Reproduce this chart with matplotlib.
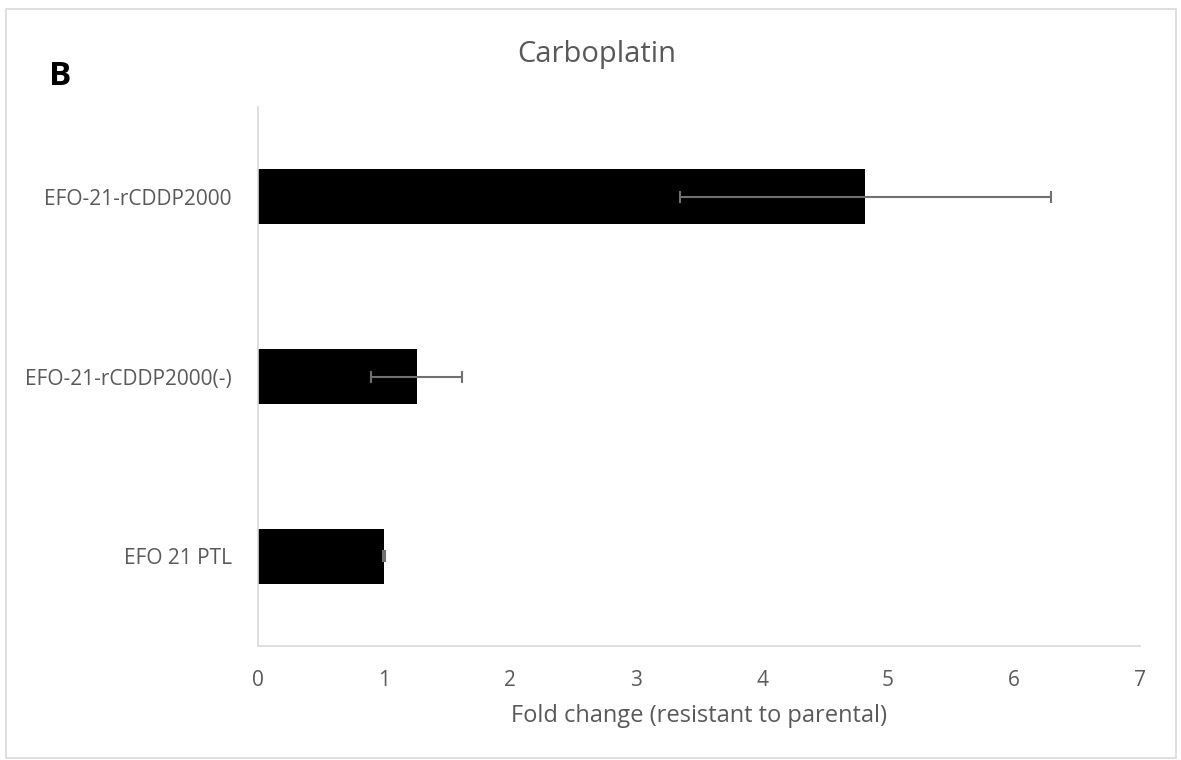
import numpy as np
import matplotlib.pyplot as plt
from matplotlib.patches import Rectangle

# fold change of each cell line relative to parental
lines = ['EFO-21-rCDDP2000', 'EFO-21-rCDDP2000(-)', 'EFO 21 PTL']
fold = [4.82, 1.26, 1.0]
err = [1.47, 0.36, 0.01]

plt.rcParams['font.family'] = ['Open Sans', 'DejaVu Sans']
grey = '#595959'

fig = plt.figure(figsize=(11.81, 7.6), dpi=100)
ax = fig.add_axes([0.2185, 0.15, 0.7468, 0.7092])

ypos = np.arange(len(lines))
ax.barh(ypos, fold, height=0.305, color='black', zorder=2)
ax.errorbar(fold, ypos, xerr=err, fmt='none', ecolor='#707070', elinewidth=1.5,
            capsize=4.5, capthick=1.5, zorder=3)

ax.set_xlim(0, 7)
ax.set_ylim(2.5, -0.5)
ax.set_xticks(range(8))
ax.set_yticks(ypos)
ax.set_yticklabels(lines)
ax.tick_params(axis='both', length=0, labelsize=15, colors=grey)
ax.tick_params(axis='y', pad=19)
ax.tick_params(axis='x', pad=17)

for s in ['top', 'right']:
    ax.spines[s].set_visible(False)
for s in ['left', 'bottom']:
    ax.spines[s].set_color('#d9d9d9')
    ax.spines[s].set_linewidth(1.2)

ax.set_xlabel('Fold change (resistant to parental)', fontsize=17, color=grey, labelpad=10)
fig.text(0.505, 0.928, 'Carboplatin', fontsize=21, color=grey, ha='center', va='center')
fig.text(0.051, 0.899, 'B', fontsize=24, fontweight='bold', color='black', ha='center', va='center')

# outer frame
fig.patches.append(Rectangle((0.005, 0.003), 0.991, 0.985, transform=fig.transFigure,
                             fill=False, edgecolor='#d9d9d9', linewidth=1.2))

fig.savefig('out.png', dpi=100)
